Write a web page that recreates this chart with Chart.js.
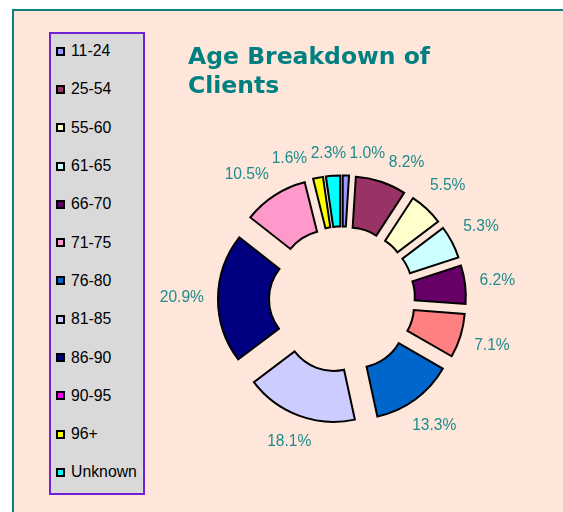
<!DOCTYPE html>
<html>
<head>
<meta charset="utf-8">
<script src="https://cdn.jsdelivr.net/npm/chart.js@4.4.1/dist/chart.umd.min.js"></script>
<style>
    html, body { margin: 0; padding: 0; background: #fff; }
    #page { position: relative; width: 563px; height: 512px; overflow: hidden; }
    #frame {
        position: absolute; left: 12px; top: 9px; width: 600px; height: 600px;
        border: 2px solid #0f8080; background: #ffe6da;
    }
    #chart { position: absolute; left: 0; top: 0; }
    #legend {
        position: absolute; left: 49px; top: 32px; width: 96px; height: 463px;
        box-sizing: border-box; border: 2px solid #6f22d6; background: #d9d9d9;
        font-family: "Liberation Sans", Arial, sans-serif; font-size: 15.8px; color: #000;
    }
    #legend .items { margin-top: -2px; }
    #legend .item { height: 38.3px; display: flex; align-items: center; }
    #legend .swatch {
        width: 9px; height: 9px; box-sizing: border-box; border: 2px solid #000;
        margin-left: 5px; margin-right: 6px;
    }
</style>
</head>
<body>
<div id="page">
    <div id="frame"></div>
    <canvas id="chart" width="563" height="512"></canvas>
    <div id="legend"><div class="items"></div></div>
</div>
<script>
    const categories = ['11-24', '25-54', '55-60', '61-65', '66-70', '71-75', '76-80', '81-85', '86-90', '90-95', '96+', 'Unknown'];
    const shares = [1.0, 8.2, 5.5, 5.3, 6.2, 7.1, 13.3, 18.1, 20.9, 10.5, 1.6, 2.3];
    const sliceColors = ['#9999ff', '#993366', '#ffffcc', '#ccffff', '#660066', '#ff8080', '#0066cc', '#ccccff', '#000080', '#ff99cc', '#ffff00', '#00ffff'];
    const legendColors = ['#9999ff', '#993366', '#ffffcc', '#ccffff', '#660066', '#ff99cc', '#0066cc', '#ccccff', '#000080', '#ff00ff', '#ffff00', '#00ffff'];
    const titleLines = ['Age Breakdown of', 'Clients'];

    const EXPLODE = 24;       // how far each slice is pulled out
    const LABEL_GAP = 14;
    const LABEL_FONT = '15.6px "Liberation Sans", Arial, sans-serif';
    const LABEL_COLOR = '#1e8c8c';

    // legend (drawn as html, the original keeps it in its own box)
    const legendItems = document.querySelector('#legend .items');
    categories.forEach((c, i) => {
        const row = document.createElement('div');
        row.className = 'item';
        const sw = document.createElement('span');
        sw.className = 'swatch';
        sw.style.background = legendColors[i];
        const txt = document.createElement('span');
        txt.textContent = c;
        row.appendChild(sw);
        row.appendChild(txt);
        legendItems.appendChild(row);
    });

    // draws every slice shifted out along its own bisector
    const explodePlugin = {
        id: 'explode',
        beforeDatasetDraw(chart, args) {
            const ctx = chart.ctx;
            args.meta.data.forEach(arc => {
                const mid = (arc.startAngle + arc.endAngle) / 2;
                ctx.save();
                ctx.translate(Math.cos(mid) * EXPLODE, Math.sin(mid) * EXPLODE);
                arc.draw(ctx);
                ctx.restore();
            });
            return false;
        }
    };

    // percentage labels outside the ring, nudged apart where they collide
    const labelPlugin = {
        id: 'pctLabels',
        afterDatasetsDraw(chart) {
            const ctx = chart.ctx;
            const arcs = chart.getDatasetMeta(0).data;
            const h = 13;
            ctx.save();
            ctx.font = LABEL_FONT;
            const labels = arcs.map((arc, i) => {
                const text = shares[i].toFixed(1) + '%';
                return {
                    text,
                    w: ctx.measureText(text).width,
                    a: (arc.startAngle + arc.endAngle) / 2,
                    cx: arc.x, cy: arc.y, r: arc.outerRadius
                };
            });
            const place = l => {
                const c = Math.cos(l.a), s = Math.sin(l.a);
                const rho = l.r + EXPLODE + LABEL_GAP + (l.w / 2) * Math.abs(c) + (h / 2) * Math.abs(s);
                l.x = l.cx + rho * c;
                l.y = l.cy + rho * s;
            };
            labels.forEach(place);
            const step = 0.3 * Math.PI / 180;
            for (let it = 0; it < 400; it++) {
                let moved = false;
                for (let i = 0; i < labels.length; i++) {
                    for (let j = i + 1; j < labels.length; j++) {
                        const p = labels[i], q = labels[j];
                        if (Math.abs(p.x - q.x) < (p.w + q.w) / 2 + 3 && Math.abs(p.y - q.y) < h + 3) {
                            let d = q.a - p.a;
                            while (d > Math.PI) d -= 2 * Math.PI;
                            while (d < -Math.PI) d += 2 * Math.PI;
                            const sgn = d >= 0 ? 1 : -1;
                            p.a -= sgn * step;
                            q.a += sgn * step;
                            place(p); place(q);
                            moved = true;
                        }
                    }
                }
                if (!moved) break;
            }
            ctx.fillStyle = LABEL_COLOR;
            ctx.textAlign = 'center';
            ctx.textBaseline = 'middle';
            labels.forEach(l => ctx.fillText(l.text, l.x, l.y));
            ctx.restore();
        }
    };

    new Chart(document.getElementById('chart'), {
        type: 'doughnut',
        data: {
            labels: categories,
            datasets: [{
                data: shares,
                backgroundColor: sliceColors,
                borderColor: '#000',
                borderWidth: 2,
                borderJoinStyle: 'miter'
            }]
        },
        plugins: [explodePlugin, labelPlugin],
        options: {
            responsive: false,
            animation: false,
            radius: 100,
            cutout: '49%',
            layout: { padding: { left: 188, right: 67, top: 0, bottom: 15 } },
            events: [],
            plugins: {
                legend: { display: false },
                tooltip: { enabled: false },
                title: {
                    display: true,
                    text: titleLines,
                    align: 'start',
                    color: '#008080',
                    font: { family: '"DejaVu Sans", sans-serif', size: 23.5, weight: 'bold', lineHeight: 1.25 },
                    padding: { top: 43, bottom: 0 }
                }
            }
        }
    });
</script>
</body>
</html>
